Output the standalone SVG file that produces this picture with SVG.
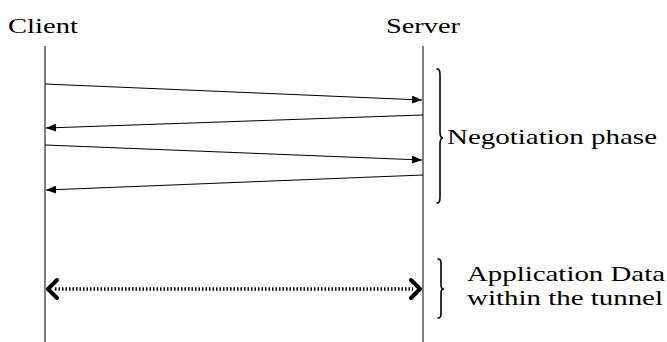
<svg xmlns="http://www.w3.org/2000/svg" width="667" height="342" viewBox="0 0 667 342">
<style>
.t{font-family:"Liberation Serif","DejaVu Serif",serif;font-size:21px;fill:#000}
.life{stroke:#000;stroke-width:1;fill:none}
.msg{stroke:#000;stroke-width:1;fill:none}
.brace{stroke:#000;stroke-width:1.6;fill:none;stroke-linecap:round}
.chev{stroke:#000;stroke-width:4;fill:none;stroke-linecap:round;stroke-linejoin:round}
</style>
<defs>
<marker id="ah" viewBox="0 0 10 8" refX="10" refY="4" markerWidth="10" markerHeight="8" markerUnits="userSpaceOnUse" orient="auto">
<path d="M0,0 L10,4 L0,8 Z" fill="#000"/>
</marker>
</defs>
<rect width="667" height="342" fill="#fff"/>
<g id="client">
<text class="t" x="8" y="33" textLength="70" lengthAdjust="spacingAndGlyphs">Client</text>
<line class="life" x1="45" y1="46" x2="45" y2="342"/>
</g>
<g id="server">
<text class="t" x="386" y="33" textLength="74" lengthAdjust="spacingAndGlyphs">Server</text>
<line class="life" x1="423" y1="46" x2="423" y2="342"/>
</g>
<g id="connectors">
<line class="msg" x1="45" y1="84" x2="422" y2="100" marker-end="url(#ah)"/>
<line class="msg" x1="423" y1="115" x2="46" y2="128" marker-end="url(#ah)"/>
<line class="msg" x1="45" y1="145" x2="422" y2="160" marker-end="url(#ah)"/>
<line class="msg" x1="423" y1="175" x2="46" y2="190" marker-end="url(#ah)"/>
<line x1="55" y1="289" x2="413" y2="289" stroke="#000" stroke-width="3.5" stroke-dasharray="1.5 2"/>
<path class="chev" d="M57,280 L48,289 L57,298"/>
<path class="chev" d="M411,280 L420,289 L411,298"/>
</g>
<g id="negotiation">
<path class="brace" d="M437,69 Q440,69 440,74 L440,132 Q440,138 443,138 Q440,138 440,144 L440,198 Q440,203 437,203"/>
<text class="t" x="447" y="144" textLength="210" lengthAdjust="spacingAndGlyphs">Negotiation phase</text>
</g>
<g id="appdata">
<path class="brace" d="M438,259 Q441,259 441,263 L441,285 Q441,289 444,289 Q441,289 441,293 L441,314 Q441,318 438,318"/>
<text class="t" x="467" y="281" textLength="198" lengthAdjust="spacingAndGlyphs">Application Data</text>
<text class="t" x="467" y="305" textLength="196" lengthAdjust="spacingAndGlyphs">within the tunnel</text>
</g>
</svg>
